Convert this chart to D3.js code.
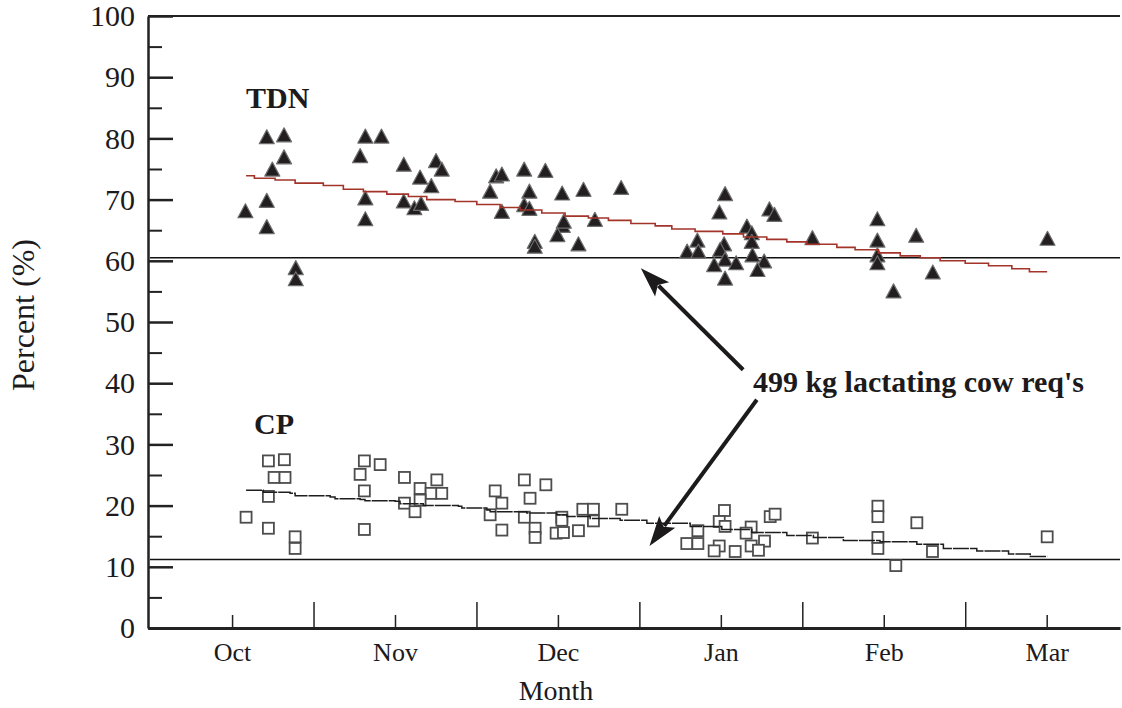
<!DOCTYPE html>
<html>

<head>
    <title>TDN and CP by month</title>
    <script src="https://d3js.org/d3.v7.min.js"></script>
    <style>
        body { margin: 0; background: #fff; }
        text { font-family: "Liberation Serif", "Times New Roman", serif; fill: #1c1a1b; }
        .axis path, .axis line { stroke: #222; }
        .axis text { font-size: 30px; }
        .xaxis text { font-size: 26px; }
    </style>
</head>

<body>
    <div id="chart"></div>
    <script>
        // x values are months after 1 Oct (0 = Oct, 5 = Mar)
        const months = ["Oct", "Nov", "Dec", "Jan", "Feb", "Mar"];

        const tdnMonth = [0.213, 0.319, 0.319, 0.247, 0.213, 0.082, 0.213, 0.391, 0.391,
            0.818, 0.917, 0.786, 0.818, 0.818, 1.054, 1.154, 1.223, 1.252, 1.287, 1.054, 1.119, 1.160,
            1.621, 1.656, 1.584, 1.793, 1.923, 1.825, 1.656, 1.793, 1.825,
            2.026, 2.157, 2.388, 2.227, 2.030, 2.036, 1.997, 2.126, 1.858, 1.858,
            3.026, 2.991, 3.298, 3.329, 2.856, 2.793, 2.862, 3.020, 2.996, 3.160, 3.190, 3.190, 3.194,
            3.026, 2.959, 3.094, 3.266, 3.225, 3.026, 3.562,
            3.961, 3.961, 3.961, 3.961, 4.199, 4.301, 4.060, 5.005];
        const tdnValue = [80.2, 80.5, 76.9, 74.9, 69.8, 68.1, 65.5, 58.8, 57.0,
            80.3, 80.3, 77.1, 70.2, 66.8, 75.7, 73.6, 72.2, 76.3, 74.9, 69.7, 68.6, 69.3,
            73.8, 74.1, 71.3, 74.9, 74.7, 71.3, 68.0, 69.1, 68.5,
            71.0, 71.6, 71.9, 66.7, 65.7, 66.4, 64.2, 62.7, 63.1, 62.3,
            70.9, 67.9, 68.4, 67.5, 63.3, 61.5, 61.5, 62.7, 61.8, 65.6, 64.5, 63.1, 60.9,
            60.2, 59.3, 59.6, 59.9, 58.5, 57.1, 63.7,
            66.8, 63.3, 60.9, 59.6, 64.1, 58.1, 55.0, 63.6];

        const cpMonth = [0.223, 0.321, 0.258, 0.325, 0.223, 0.086, 0.223, 0.387, 0.387,
            0.812, 0.909, 0.786, 0.812, 0.812, 1.058, 1.154, 1.222, 1.257, 1.058, 1.123, 1.154, 1.287,
            1.615, 1.656, 1.584, 1.656, 1.794, 1.926, 1.829, 1.794, 1.860, 1.860,
            2.024, 2.024, 1.989, 2.034, 2.126, 2.153, 2.218, 2.218, 2.392,
            3.022, 2.990, 3.026, 2.859, 2.791, 2.859, 2.990, 2.959, 3.088, 3.186, 3.155, 3.186, 3.268,
            3.231, 3.303, 3.333, 3.562, 3.964, 3.964, 3.964, 3.964, 4.203, 4.074, 4.299, 5.003];
        const cpValue = [27.3, 27.5, 24.6, 24.6, 21.5, 18.1, 16.3, 14.9, 13.0,
            27.3, 26.7, 25.1, 22.4, 16.1, 24.6, 22.8, 22.0, 24.2, 20.4, 19.0, 20.9, 22.0,
            22.4, 20.4, 18.5, 16.0, 24.2, 23.4, 21.2, 18.1, 16.3, 14.8,
            18.1, 17.6, 15.5, 15.6, 15.9, 19.4, 19.4, 17.5, 19.4,
            19.2, 17.4, 16.6, 15.9, 13.8, 13.8, 13.4, 12.6, 12.5, 16.5, 15.5, 13.4, 14.2,
            12.7, 18.2, 18.6, 14.7, 19.9, 18.2, 14.8, 13.0, 17.2, 10.2, 12.5, 14.9];

        // step-wise trend lines
        const tdnTrendMonth = [0.086, 0.137, 0.264, 0.387, 0.560, 0.683, 0.806, 0.950, 1.082, 1.195,
            1.369, 1.502, 1.645, 1.768, 1.901, 2.044, 2.187, 2.310, 2.448, 2.597, 2.699, 2.842,
            3.012, 3.139, 3.282, 3.405, 3.528, 3.712, 3.824, 3.967, 4.101, 4.224, 4.346, 4.500,
            4.643, 4.786, 4.894, 5.003];
        const tdnTrendValue = [73.9, 73.5, 73.2, 72.7, 72.3, 71.7, 71.3, 70.9, 70.5, 70.0,
            69.7, 69.2, 68.7, 68.3, 67.8, 67.3, 67.0, 66.6, 66.1, 65.7, 65.2, 64.8,
            64.4, 63.9, 63.5, 63.1, 62.7, 62.2, 61.8, 61.3, 60.8, 60.5, 60.0, 59.6,
            59.2, 58.7, 58.2, 58.2];
        const cpTrendMonth = [0.086, 0.192, 0.356, 0.387, 0.602, 0.632, 0.786, 0.816, 1.001, 1.031,
            1.174, 1.389, 1.410, 1.564, 1.584, 1.809, 1.993, 2.055, 2.198, 2.382, 2.546, 2.812,
            3.006, 3.190, 3.405, 3.568, 3.752, 3.977, 4.203, 4.366, 4.571, 4.766, 4.899, 5.003];
        const cpTrendValue = [22.5, 22.2, 22.0, 21.6, 21.4, 21.1, 21.0, 20.8, 20.7, 20.3,
            20.0, 19.9, 19.6, 19.3, 19.0, 18.8, 18.5, 18.2, 17.9, 17.6, 17.1, 16.6,
            16.1, 15.6, 15.1, 14.8, 14.3, 14.1, 13.7, 13.0, 12.6, 12.1, 11.7, 11.7];

        // 499 kg lactating cow requirements
        const reqTDN = 60.5;
        const reqCP = 11.2;

        const width = 1122, height = 708;
        const svg = d3.select("#chart").append("svg")
            .attr("width", width)
            .attr("height", height);

        const x = d3.scaleLinear().domain([-0.516, 5.45]).range([148, 1120]);
        const y = d3.scaleLinear().domain([0, 100]).range([628, 16]);

        // frame top line
        svg.append("line")
            .attr("x1", x.range()[0]).attr("x2", x.range()[1])
            .attr("y1", y(100)).attr("y2", y(100))
            .attr("stroke", "#222").attr("stroke-width", 2);

        // y axis: major ticks every 10, minor ticks at 5s (both pointing inward)
        svg.append("g")
            .attr("class", "axis")
            .attr("transform", `translate(${x.range()[0]},0)`)
            .call(d3.axisLeft(y).tickValues(d3.range(0, 101, 10)).tickSizeInner(-25).tickSizeOuter(0).tickPadding(13))
            .call(g => g.selectAll("line").attr("stroke-width", 2.5))
            .call(g => g.select(".domain").attr("stroke-width", 2.5));

        svg.append("g")
            .attr("class", "axis")
            .attr("transform", `translate(${x.range()[0]},0)`)
            .call(d3.axisLeft(y).tickValues(d3.range(5, 100, 10)).tickSize(-14).tickFormat(""))
            .call(g => g.select(".domain").remove())
            .call(g => g.selectAll("line").attr("stroke-width", 2));

        // x axis: month labels with short ticks, long ticks between months
        svg.append("g")
            .attr("class", "axis xaxis")
            .attr("transform", `translate(0,${y(0)})`)
            .call(d3.axisBottom(x).tickValues(d3.range(0, 6)).tickSizeInner(-13).tickSizeOuter(0)
                .tickPadding(15).tickFormat(d => months[d]))
            .call(g => g.select(".domain").attr("stroke-width", 3))
            .call(g => g.selectAll("line").attr("stroke-width", 1.5));

        svg.append("g")
            .attr("class", "axis")
            .attr("transform", `translate(0,${y(0)})`)
            .call(d3.axisBottom(x).tickValues([0.5, 1.5, 2.5, 3.5, 4.5]).tickSize(-26).tickFormat(""))
            .call(g => g.select(".domain").remove())
            .call(g => g.selectAll("line").attr("stroke-width", 1.5));

        // axis titles
        svg.append("text")
            .attr("x", 556).attr("y", 700)
            .attr("text-anchor", "middle")
            .style("font-size", "28px")
            .text("Month");

        svg.append("text")
            .attr("transform", "translate(34,315) rotate(-90)")
            .attr("text-anchor", "middle")
            .style("font-size", "32px")
            .text("Percent (%)");

        // requirement lines
        [reqTDN, reqCP].forEach(v => {
            svg.append("line")
                .attr("x1", x.range()[0] + 2).attr("x2", x.range()[1])
                .attr("y1", y(v)).attr("y2", y(v))
                .attr("stroke", "#111").attr("stroke-width", 1.5);
        });

        // TDN points (filled triangles)
        const tdn = tdnMonth.map((m, i) => ({ m, v: tdnValue[i] }));
        svg.append("g").selectAll("path")
            .data(tdn)
            .join("path")
            .attr("transform", d => `translate(${x(d.m)},${y(d.v)})`)
            .attr("d", "M0,-7.5L7.5,6.5L-7.5,6.5Z")
            .attr("fill", "#231f20")
            .attr("stroke", "#6d6d6d")
            .attr("stroke-width", 1.2)
            .attr("stroke-linejoin", "round");

        // CP points (open squares)
        const cp = cpMonth.map((m, i) => ({ m, v: cpValue[i] }));
        svg.append("g").selectAll("rect")
            .data(cp)
            .join("rect")
            .attr("x", d => x(d.m) - 5.5)
            .attr("y", d => y(d.v) - 5.5)
            .attr("width", 11)
            .attr("height", 11)
            .attr("fill", "#fff")
            .attr("stroke", "#4d4d4d")
            .attr("stroke-width", 1.8);

        // trend lines
        const stepLine = d3.line()
            .x(d => x(d[0]))
            .y(d => y(d[1]))
            .curve(d3.curveStepAfter);

        svg.append("path")
            .datum(d3.zip(tdnTrendMonth, tdnTrendValue))
            .attr("d", stepLine)
            .attr("fill", "none")
            .attr("stroke", "#a3342a")
            .attr("stroke-width", 1.6);

        svg.append("path")
            .datum(d3.zip(cpTrendMonth, cpTrendValue))
            .attr("d", stepLine)
            .attr("fill", "none")
            .attr("stroke", "#1e1e1e")
            .attr("stroke-width", 1.5)
            .attr("stroke-dasharray", "16,1");

        // labels
        svg.append("text")
            .attr("x", x(0.086)).attr("y", y(85.0))
            .style("font-size", "30px").style("font-weight", "bold")
            .text("TDN");

        svg.append("text")
            .attr("x", x(0.135)).attr("y", y(31.7))
            .style("font-size", "30px").style("font-weight", "bold")
            .text("CP");

        svg.append("text")
            .attr("x", x(3.197)).attr("y", y(38.6))
            .style("font-size", "30px").style("font-weight", "bold")
            .text("499 kg lactating cow req's");

        // arrows from the label to the requirement lines
        const arrows = [
            { from: [3.137, 42.2], to: [2.509, 58.8] },
            { from: [3.221, 37.3], to: [2.562, 13.4] }
        ];
        arrows.forEach(a => {
            const x1 = x(a.from[0]), y1 = y(a.from[1]);
            const x2 = x(a.to[0]), y2 = y(a.to[1]);
            const ang = Math.atan2(y2 - y1, x2 - x1);
            const headLen = 30, headW = 10;
            const bx = x2 - headLen * Math.cos(ang), by = y2 - headLen * Math.sin(ang);
            svg.append("line")
                .attr("x1", x1).attr("y1", y1)
                .attr("x2", bx + 5 * Math.cos(ang)).attr("y2", by + 5 * Math.sin(ang))
                .attr("stroke", "#1c1a1b").attr("stroke-width", 4);
            const px = -Math.sin(ang), py = Math.cos(ang);
            svg.append("path")
                .attr("d", `M${x2},${y2}L${bx + headW * px},${by + headW * py}L${bx + 6 * Math.cos(ang)},${by + 6 * Math.sin(ang)}L${bx - headW * px},${by - headW * py}Z`)
                .attr("fill", "#1c1a1b");
        });
    </script>

</body>

</html>
